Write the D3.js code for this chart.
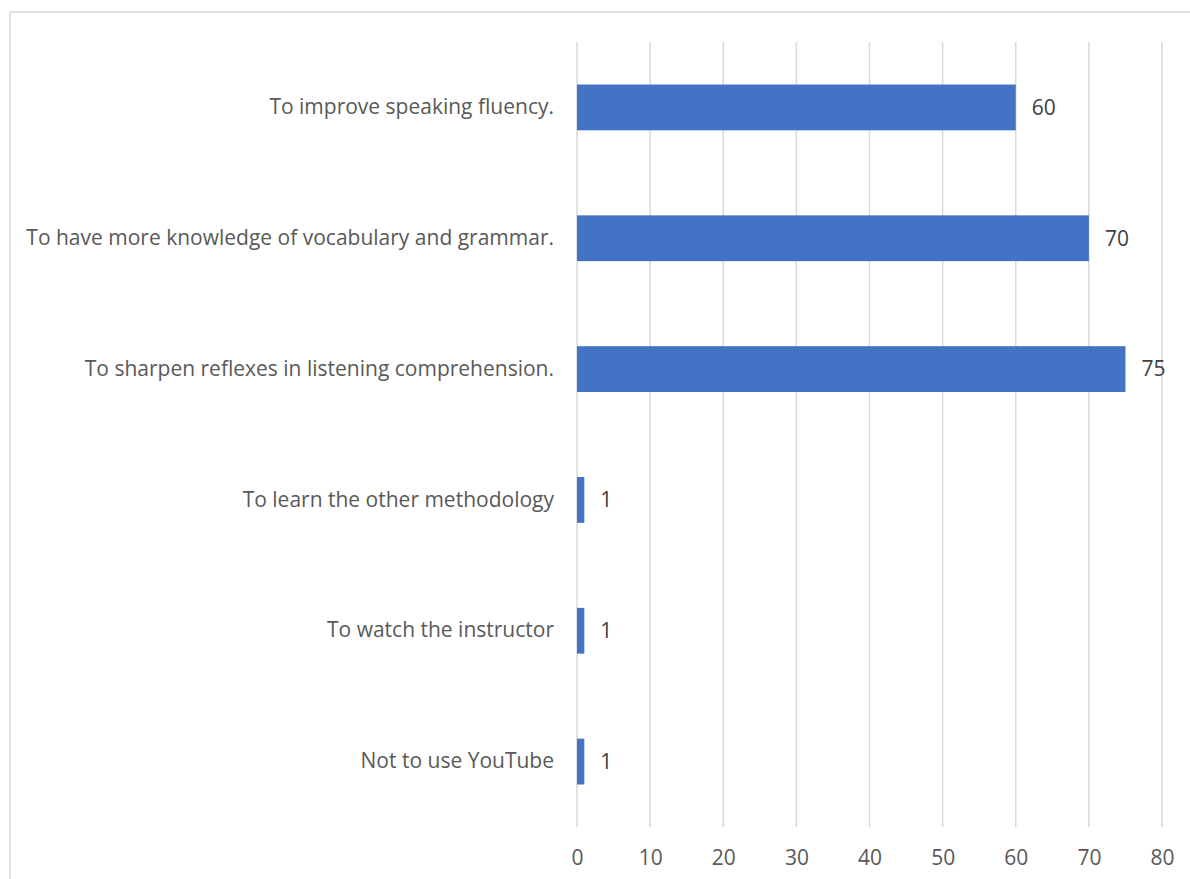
<!DOCTYPE html>
<html>
<head>
<meta charset="utf-8">
<script src="https://cdn.jsdelivr.net/npm/d3@7"></script>
<style>
  body { margin: 0; background: #fff; }
  svg text { font-family: "Open Sans", sans-serif; }
</style>
</head>
<body>
<div id="chart"></div>
<script>
// data
const categories = [
  "To improve speaking fluency.",
  "To have more knowledge of vocabulary and grammar.",
  "To sharpen reflexes in listening comprehension.",
  "To learn the other methodology",
  "To watch the instructor",
  "Not to use YouTube"
];
const values = [60, 70, 75, 1, 1, 1];
const xTicks = [0, 10, 20, 30, 40, 50, 60, 70, 80];

const W = 1190, H = 879;
const plot = {left: 577, right: 1162, top: 42, bottom: 827};
const fontSize = 21;

const svg = d3.select("#chart").append("svg")
    .attr("width", W)
    .attr("height", H);

// outer chart border (runs off right and bottom edge)
svg.append("rect")
    .attr("x", 10).attr("y", 12)
    .attr("width", W + 20).attr("height", H + 20)
    .attr("fill", "none")
    .attr("stroke", "#d9d9d9")
    .attr("stroke-width", 1.5);

const x = d3.scaleLinear().domain([0, 80]).range([plot.left, plot.right]);
const y = d3.scaleBand().domain(categories)
    .range([plot.top, plot.bottom])
    .paddingInner(0.65).paddingOuter(0.325);

// gridlines
svg.append("g")
  .selectAll("line")
  .data(xTicks)
  .join("line")
    .attr("x1", d => x(d)).attr("x2", d => x(d))
    .attr("y1", plot.top).attr("y2", plot.bottom)
    .attr("stroke", "#d9d9d9")
    .attr("stroke-width", 1.5);

// x axis labels
const xAxis = svg.append("g")
    .attr("transform", `translate(0,${plot.bottom})`)
    .call(d3.axisBottom(x).tickValues(xTicks).tickSize(0).tickPadding(23));
xAxis.select(".domain").remove();
xAxis.selectAll("text")
    .attr("font-size", fontSize)
    .attr("fill", "#595959")
    .style("font-family", "'Open Sans', sans-serif");

// category labels
const yAxis = svg.append("g")
    .attr("transform", `translate(${plot.left},0)`)
    .call(d3.axisLeft(y).tickSize(0).tickPadding(23));
yAxis.select(".domain").remove();
yAxis.selectAll("text")
    .attr("font-size", fontSize)
    .attr("fill", "#595959")
    .style("font-family", "'Open Sans', sans-serif");

// bars
svg.append("g")
  .selectAll("rect")
  .data(values)
  .join("rect")
    .attr("x", x(0))
    .attr("y", (d, i) => y(categories[i]))
    .attr("width", d => x(d) - x(0))
    .attr("height", y.bandwidth())
    .attr("fill", "#4472c4");

// value labels
svg.append("g")
  .selectAll("text")
  .data(values)
  .join("text")
    .attr("x", d => x(d) + 16)
    .attr("y", (d, i) => y(categories[i]) + y.bandwidth() / 2)
    .attr("dy", "0.35em")
    .attr("font-size", fontSize)
    .attr("fill", "#404040")
    .text(d => d);
</script>
</body>
</html>
